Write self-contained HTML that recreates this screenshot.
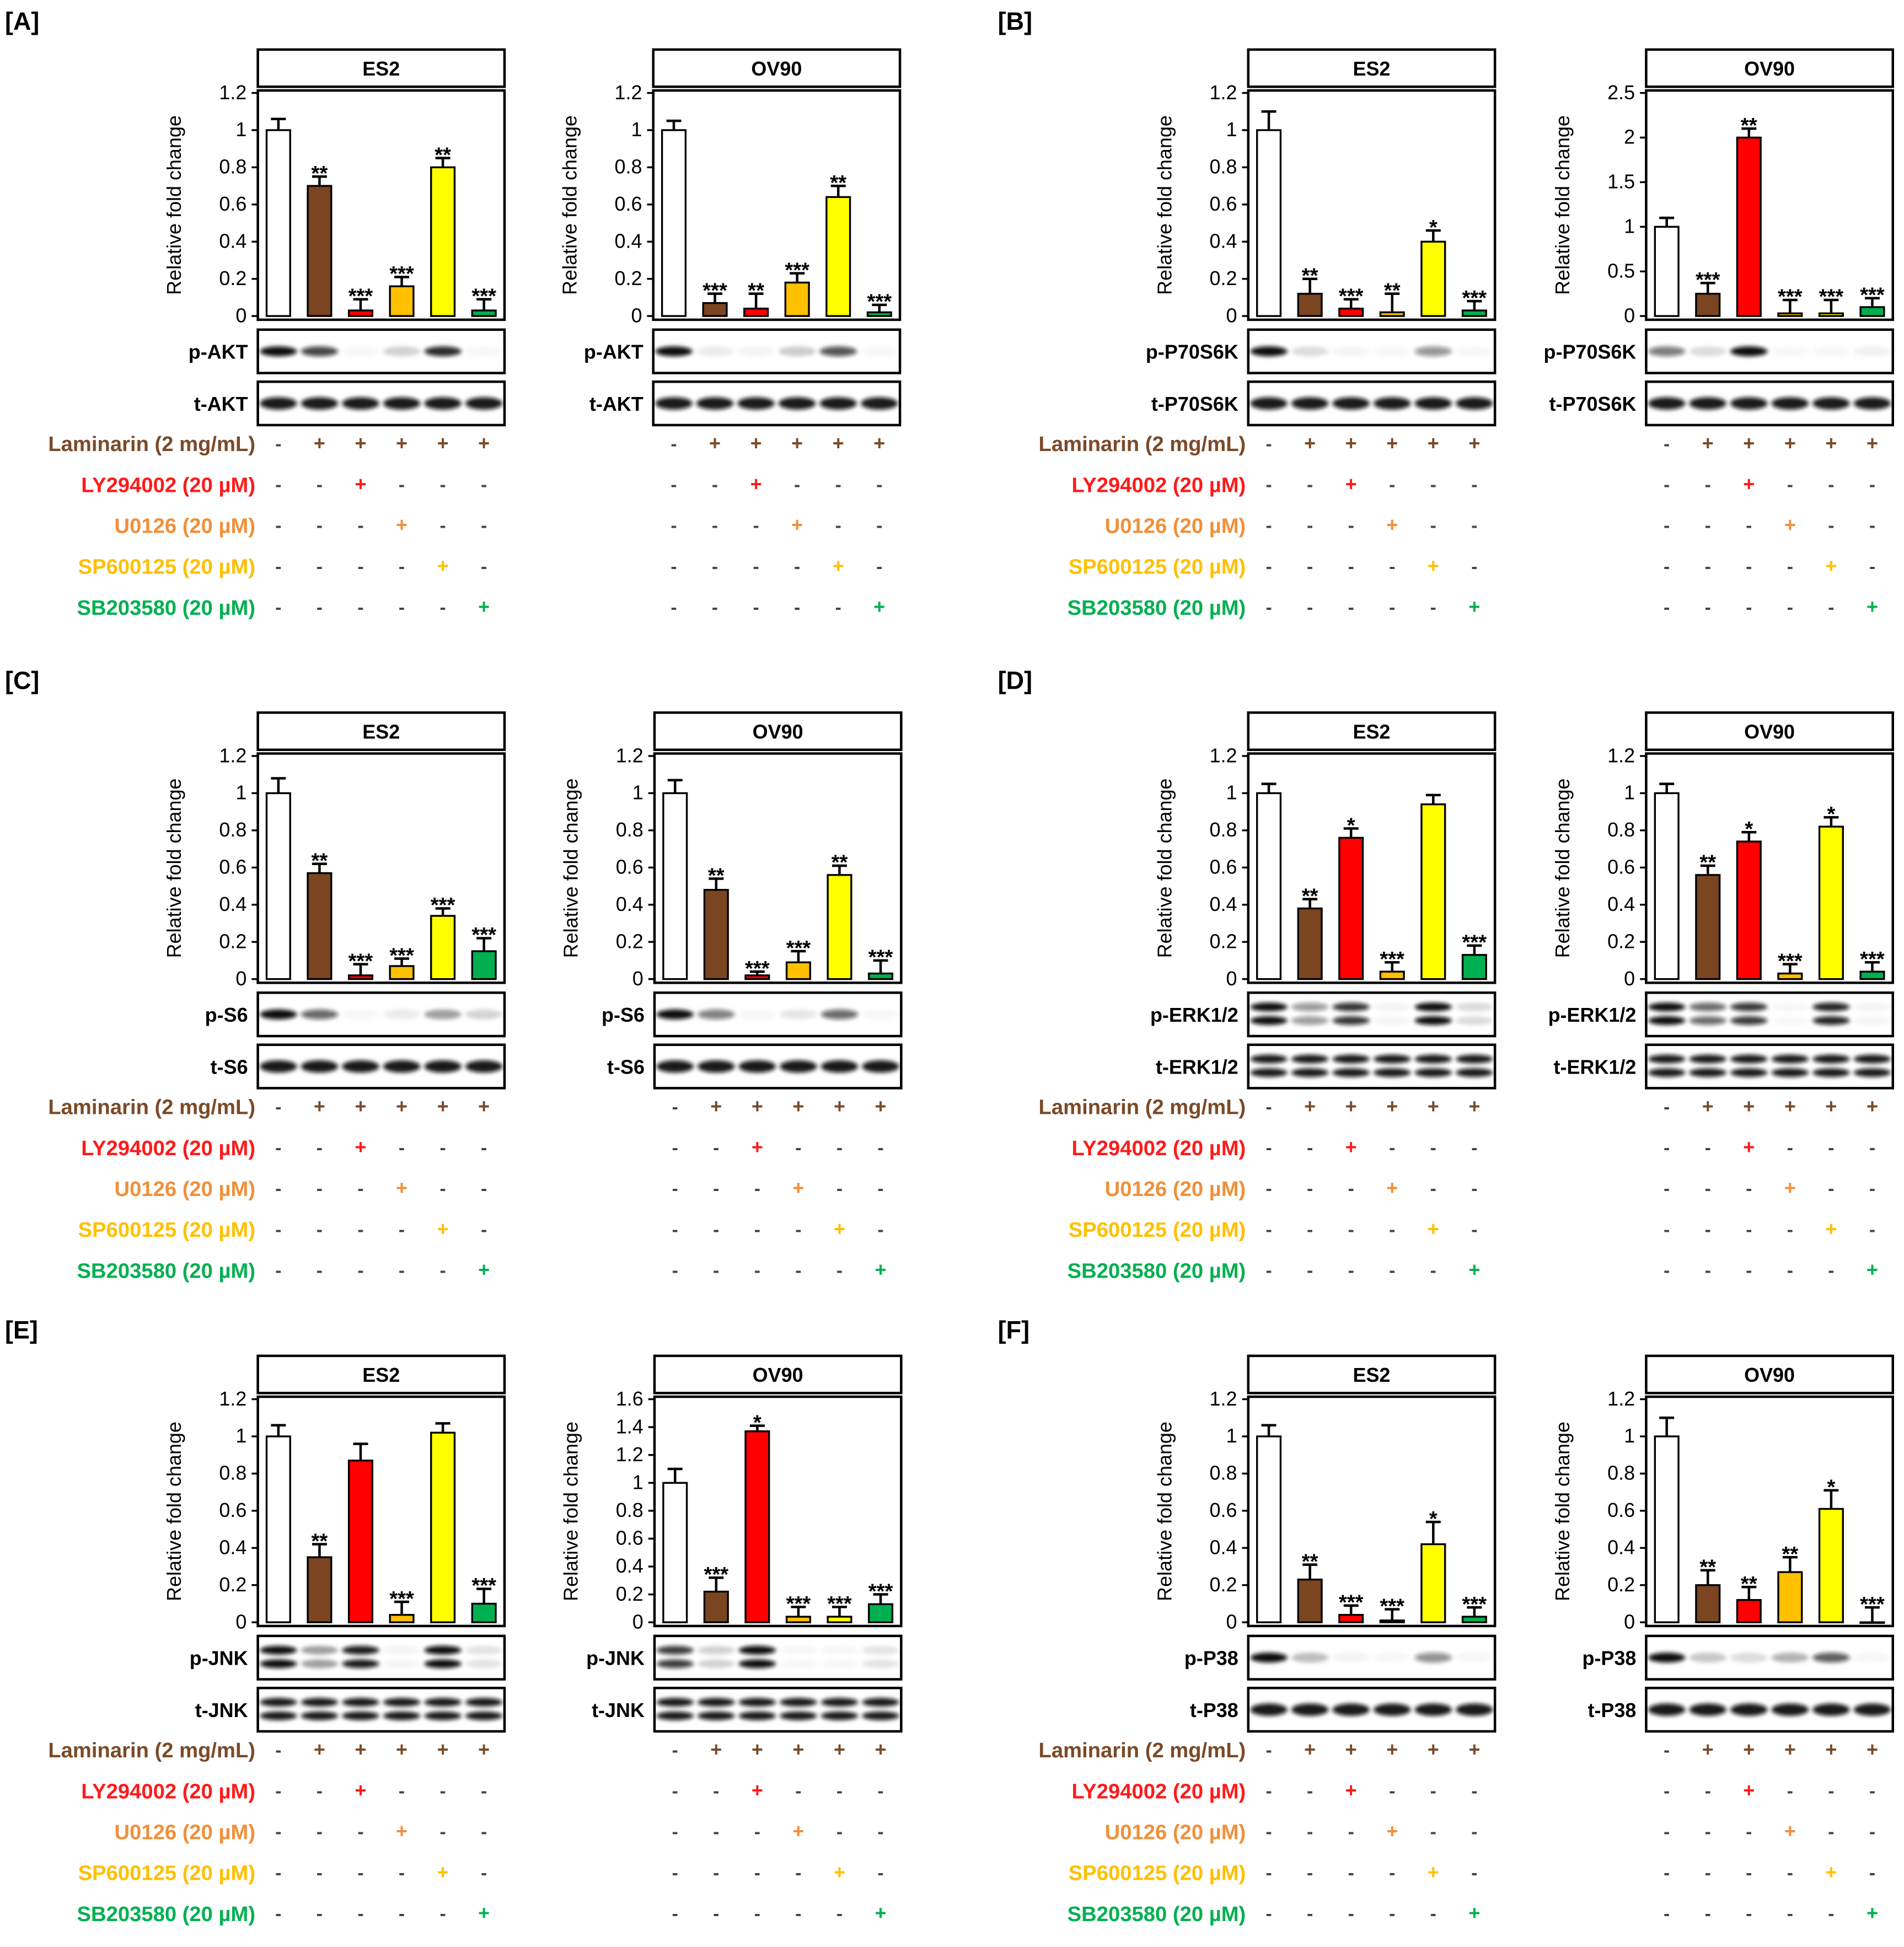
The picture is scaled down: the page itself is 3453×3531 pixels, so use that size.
<!DOCTYPE html>
<html><head><meta charset="utf-8"><style>
html,body{margin:0;padding:0;background:#fff}
svg{display:block}
text{font-family:"Liberation Sans",sans-serif}
</style></head><body>
<svg id="fig" xmlns="http://www.w3.org/2000/svg" width="3453" height="3531" viewBox="0 0 1536 1571" preserveAspectRatio="none">
<defs><filter id="blur" x="-20%" y="-50%" width="140%" height="200%"><feGaussianBlur stdDeviation="1.6"/></filter></defs>
</svg>
<script>
const lanes = ["control","laminarin","ly294002","u0126","sp600125","sb203580"];
const barColors = ["#ffffff","#7a4520","#ff0000","#ffc000","#ffff00","#00b050"];
const treatNames = ["Laminarin (2 mg/mL)","LY294002 (20 µM)","U0126 (20 µM)","SP600125 (20 µM)","SB203580 (20 µM)"];
const treatColors = ["#7a4a28","#ff1a1a","#f0903a","#ffc000","#00b050"];
const treatPlus = [[0,1,1,1,1,1],[0,0,1,0,0,0],[0,0,0,1,0,0],[0,0,0,0,1,0],[0,0,0,0,0,1]];

const aEs2Values=[1,0.70,0.03,0.16,0.80,0.03]; const aEs2Err=[0.06,0.05,0.06,0.05,0.05,0.06]; const aEs2Sig=["","**","***","***","**","***"];
const aOv90Values=[1,0.07,0.04,0.18,0.64,0.02]; const aOv90Err=[0.05,0.05,0.08,0.05,0.06,0.04]; const aOv90Sig=["","***","**","***","**","***"];
const bEs2Values=[1,0.12,0.04,0.02,0.40,0.03]; const bEs2Err=[0.10,0.08,0.05,0.10,0.06,0.05]; const bEs2Sig=["","**","***","**","*","***"];
const bOv90Values=[1,0.25,2.0,0.03,0.03,0.10]; const bOv90Err=[0.10,0.12,0.10,0.15,0.15,0.10]; const bOv90Sig=["","***","**","***","***","***"];
const cEs2Values=[1,0.57,0.02,0.07,0.34,0.15]; const cEs2Err=[0.08,0.05,0.06,0.04,0.04,0.07]; const cEs2Sig=["","**","***","***","***","***"];
const cOv90Values=[1,0.48,0.02,0.09,0.56,0.03]; const cOv90Err=[0.07,0.06,0.02,0.06,0.05,0.07]; const cOv90Sig=["","**","***","***","**","***"];
const dEs2Values=[1,0.38,0.76,0.04,0.94,0.13]; const dEs2Err=[0.05,0.05,0.05,0.05,0.05,0.05]; const dEs2Sig=["","**","*","***","","***"];
const dOv90Values=[1,0.56,0.74,0.03,0.82,0.04]; const dOv90Err=[0.05,0.05,0.05,0.05,0.05,0.05]; const dOv90Sig=["","**","*","***","*","***"];
const eEs2Values=[1,0.35,0.87,0.04,1.02,0.10]; const eEs2Err=[0.06,0.07,0.09,0.07,0.05,0.08]; const eEs2Sig=["","**","","***","","***"];
const eOv90Values=[1,0.22,1.37,0.04,0.04,0.13]; const eOv90Err=[0.10,0.10,0.04,0.07,0.07,0.07]; const eOv90Sig=["","***","*","***","***","***"];
const fEs2Values=[1,0.23,0.04,0.01,0.42,0.03]; const fEs2Err=[0.06,0.08,0.05,0.06,0.12,0.05]; const fEs2Sig=["","**","***","***","*","***"];
const fOv90Values=[1,0.20,0.12,0.27,0.61,0.00]; const fOv90Err=[0.10,0.08,0.07,0.08,0.10,0.08]; const fOv90Sig=["","**","**","**","*","***"];
const ticks12=["0","0.2","0.4","0.6","0.8","1","1.2"];
const ticks25=["0","0.5","1","1.5","2","2.5"];
const ticks16=["0","0.2","0.4","0.6","0.8","1","1.2","1.4","1.6"];

const svg=document.getElementById('fig');
const NS="http://www.w3.org/2000/svg";
function mk(tag,attrs,parent){const e=document.createElementNS(NS,tag);for(const k in attrs)e.setAttribute(k,attrs[k]);(parent||svg).appendChild(e);return e;}
function txt(s,attrs,parent){const e=mk('text',attrs,parent);e.textContent=s;return e;}

function chart(id,x0,top,cell,vals,errs,sigs,ticks,pName,tName,twoBand,showTreatLabels){
  const g=mk('g',{});
  
  
  const W=199, tTop=top, tH=30, pTop=top+33, pBot=top+218;
  const yMax=parseFloat(ticks[ticks.length-1]);
  const y0=pBot-3, yTop=pTop+2;
  const yS=v=>y0-v/yMax*(y0-yTop);
  const xC=i=>x0+W/6*(i+0.5);
  const tb=mk('rect',{x:x0,y:tTop,width:W,height:tH,fill:'#fff',stroke:'#000','stroke-width':2},g);
  
  
  const tt=txt(cell,{x:x0+W/2,y:tTop+21,'text-anchor':'middle','font-size':16,'font-weight':'bold'},g);
  
  
  const pb=mk('rect',{x:x0,y:pTop,width:W,height:pBot-pTop,fill:'#fff',stroke:'#000','stroke-width':2},g);
  
  
  ticks.forEach(t=>{const v=parseFloat(t),y=yS(v);
    mk('line',{x1:x0-5,x2:x0,y1:y,y2:y,stroke:'#000','stroke-width':1.5},g);
    const tl=txt(t,{x:x0-9,y:y+5,'text-anchor':'end','font-size':16},g);
    
    
  });
  const yt=txt('Relative fold change',{x:0,y:0,'text-anchor':'middle','font-size':16,transform:`translate(${x0-62},${(pTop+pBot)/2}) rotate(-90)`},g);
  
  
  vals.forEach((v,i)=>{
    const x=xC(i),bw=19,yv=yS(v),ye=yS(v+errs[i]);
    mk('line',{x1:x,x2:x,y1:yv,y2:ye,stroke:'#000','stroke-width':2},g);
    mk('line',{x1:x-6,x2:x+6,y1:ye,y2:ye,stroke:'#000','stroke-width':2},g);
    const b=mk('rect',{x:x-bw/2,y:yv,width:bw,height:Math.max(0.5,y0-yv),fill:barColors[i],stroke:'#000','stroke-width':1.5},g);
    
    
    if(sigs[i]){const s=txt(sigs[i],{x:x,y:ye+3,'text-anchor':'middle','font-size':17,'font-weight':'bold'},g);
      
      }
  });
  const b1=pBot+8,b2=pBot+50,bh=35;
  [[b1,pName,true],[b2,tName,false]].forEach(([by,name,isP])=>{
    const r=mk('rect',{x:x0,y:by,width:W,height:bh,fill:'#fff',stroke:'#000','stroke-width':2},g);
    
    
    const l=txt(name,{x:x0-8,y:by+bh/2+6,'text-anchor':'end','font-size':16,'font-weight':'bold'},g);
    
    
    vals.forEach((v,i)=>{
      const op=isP?Math.min(1,Math.max(0.03,v/ Math.max(...vals)*1.1)):0.95;
      const cy=by+bh/2;
      if(twoBand){
        mk('ellipse',{cx:xC(i),cy:cy-6,rx:15,ry:3.5,fill:'#111','fill-opacity':op,filter:'url(#blur)'},g);
        mk('ellipse',{cx:xC(i),cy:cy+5,rx:15,ry:3.5,fill:'#111','fill-opacity':op,filter:'url(#blur)'},g);
      } else {
        mk('ellipse',{cx:xC(i),cy:cy,rx:15,ry:isP?4:5,fill:'#111','fill-opacity':op,filter:'url(#blur)'},g);
      }
    });
  });
  const tr0=pBot+100;
  treatNames.forEach((n,r)=>{
    const ty=tr0+r*33;
    if(showTreatLabels){const l=txt(n,{x:x0-2,y:ty+6,'text-anchor':'end','font-size':17,'font-weight':'bold',fill:treatColors[r]},g);
      
      }
    treatPlus[r].forEach((p,i)=>{
      const m=txt(p?'+':'-',{x:xC(i),y:ty+5,'text-anchor':'middle','font-size':p?16:15,'font-weight':'bold',fill:p?treatColors[r]:'#444'},g);
      
      
    });
  });
}
[["[A]",4,24],["[B]",805,24],["[C]",4,556],["[D]",805,556],["[E]",4,1080],["[F]",805,1080]].forEach(([s,x,y])=>{
  const t=txt(s,{x:x,y:y,'font-size':20,'font-weight':'bold'});
  
  
});
const r1=40,r2=575,r3=1094;
chart('a-es2',208,r1,'ES2',aEs2Values,aEs2Err,aEs2Sig,ticks12,'p-AKT','t-AKT',false,true);
chart('a-ov90',527,r1,'OV90',aOv90Values,aOv90Err,aOv90Sig,ticks12,'p-AKT','t-AKT',false,false);
chart('b-es2',1007,r1,'ES2',bEs2Values,bEs2Err,bEs2Sig,ticks12,'p-P70S6K','t-P70S6K',false,true);
chart('b-ov90',1328,r1,'OV90',bOv90Values,bOv90Err,bOv90Sig,ticks25,'p-P70S6K','t-P70S6K',false,false);
chart('c-es2',208,r2,'ES2',cEs2Values,cEs2Err,cEs2Sig,ticks12,'p-S6','t-S6',false,true);
chart('c-ov90',528,r2,'OV90',cOv90Values,cOv90Err,cOv90Sig,ticks12,'p-S6','t-S6',false,false);
chart('d-es2',1007,r2,'ES2',dEs2Values,dEs2Err,dEs2Sig,ticks12,'p-ERK1/2','t-ERK1/2',true,true);
chart('d-ov90',1328,r2,'OV90',dOv90Values,dOv90Err,dOv90Sig,ticks12,'p-ERK1/2','t-ERK1/2',true,false);
chart('e-es2',208,r3,'ES2',eEs2Values,eEs2Err,eEs2Sig,ticks12,'p-JNK','t-JNK',true,true);
chart('e-ov90',528,r3,'OV90',eOv90Values,eOv90Err,eOv90Sig,ticks16,'p-JNK','t-JNK',true,false);
chart('f-es2',1007,r3,'ES2',fEs2Values,fEs2Err,fEs2Sig,ticks12,'p-P38','t-P38',false,true);
chart('f-ov90',1328,r3,'OV90',fOv90Values,fOv90Err,fOv90Sig,ticks12,'p-P38','t-P38',false,false);
</script>
</body></html>
